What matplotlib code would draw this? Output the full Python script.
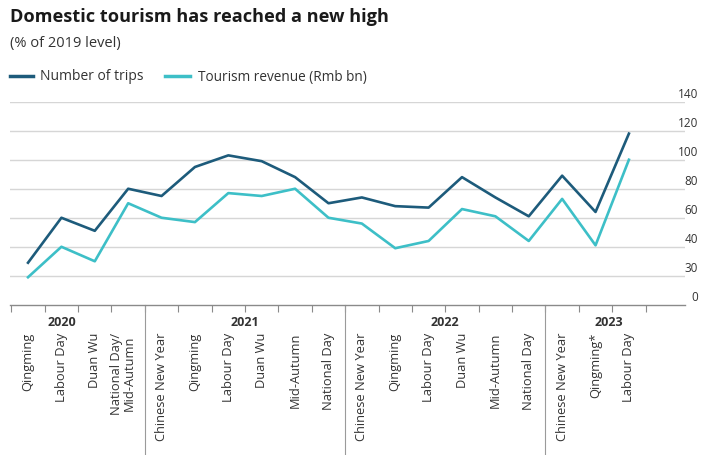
import matplotlib
matplotlib.use("Agg")
import matplotlib.pyplot as plt
import matplotlib.transforms as mtransforms
import numpy as np

plt.rcParams['font.family'] = ['Open Sans', 'DejaVu Sans']

categories = ["Qingming", "Labour Day", "Duan Wu", "National Day/\nMid-Autumn",
              "Chinese New Year", "Qingming", "Labour Day", "Duan Wu", "Mid-Autumn", "National Day",
              "Chinese New Year", "Qingming", "Labour Day", "Duan Wu", "Mid-Autumn", "National Day",
              "Chinese New Year", "Qingming*", "Labour Day"]
years = ["2020", "2021", "2022", "2023"]
year_label_pos = [1.0, 6.5, 12.5, 17.4]
year_breaks = [3.5, 9.5, 15.5]

trips = [29, 60, 51, 80, 75, 95, 103, 99, 88, 70,
         74, 68, 67, 88, 74, 61, 89, 64, 118]
revenue = [19, 40, 30, 70, 60, 57, 77, 75, 80, 60,
           56, 39, 44, 66, 61, 44, 73, 41, 100]

ytick_values = [0, 20, 40, 60, 80, 100, 120, 140]
ytick_labels = ["0", "30", "40", "60", "80", "100", "120", "140"]

W, H = 701, 456
fig = plt.figure(figsize=(W / 100, H / 100), dpi=100)
ax_left, ax_right = 10, 685
ax_top, ax_bot = 102.7, 305.8
ax = fig.add_axes([ax_left / W, (H - ax_bot) / H, (ax_right - ax_left) / W, (ax_bot - ax_top) / H])

x = np.arange(len(categories))
ax.set_xlim(-0.54, 19.68)
ax.set_ylim(0, 140)

for v in ytick_values[1:]:
    ax.axhline(v, color="#d6d6d6", lw=1.0, zorder=1)

c_trips = "#1d5b7b"
c_rev = "#3dbfc7"
ax.plot(x, revenue, color=c_rev, lw=1.9, zorder=3, solid_joinstyle="round")
ax.plot(x, trips, color=c_trips, lw=1.9, zorder=4, solid_joinstyle="round")

for s in ["top", "left", "right"]:
    ax.spines[s].set_visible(False)
ax.spines["bottom"].set_color("#8a8a8a")
ax.spines["bottom"].set_linewidth(1.0)

ax.set_yticks([])
ax.set_xticks(np.arange(-0.5, 19.0, 1.0))
ax.set_xticklabels([])
ax.tick_params(axis="x", direction="out", length=5, width=0.8, color="#8a8a8a")

# y labels on the right, above gridlines
ytrans = mtransforms.blended_transform_factory(ax.transAxes, ax.transData)
for v, lab in zip(ytick_values, ytick_labels):
    ax.text(1.0 + 13 / (ax_right - ax_left), v + 1.5, lab, transform=ytrans,
            ha="right", va="bottom", fontsize=8.5, color="#333333")

# year separators
for b in year_breaks:
    ax.plot([b, b], [0, -104], color="#9a9a9a", lw=0.8, clip_on=False, zorder=2)

# year labels
for xp, y in zip(year_label_pos, years):
    ax.text(xp, -11.5, y, ha="center", va="center", fontsize=9, fontweight="bold", color="#333333")

# category labels
for xi, lab in zip(x, categories):
    ax.text(xi - (0.15 if "\n" in lab else 0), -18.5, lab, rotation=90, ha="center", va="top",
            fontsize=9.3, color="#333333", multialignment="center", linespacing=1.0)

# titles
fig.text(10 / W, 1 - 17 / H, "Domestic tourism has reached a new high", fontsize=13.1,
         fontweight="bold", color="#1a1a1a", ha="left", va="center")
fig.text(10 / W, 1 - 44 / H, "(% of 2019 level)", fontsize=10.5, color="#333333", ha="left", va="center")

# legend
ly = 1 - 77 / H
fig.add_artist(plt.Line2D([10 / W, 33 / W], [ly, ly], color=c_trips, lw=2.5))
fig.text(40 / W, ly, "Number of trips", fontsize=10, color="#333333", ha="left", va="center")
fig.add_artist(plt.Line2D([165 / W, 190 / W], [ly, ly], color=c_rev, lw=2.5))
fig.text(198 / W, ly, "Tourism revenue (Rmb bn)", fontsize=9.8, color="#333333", ha="left", va="center")

fig.savefig("out.png", dpi=100)
